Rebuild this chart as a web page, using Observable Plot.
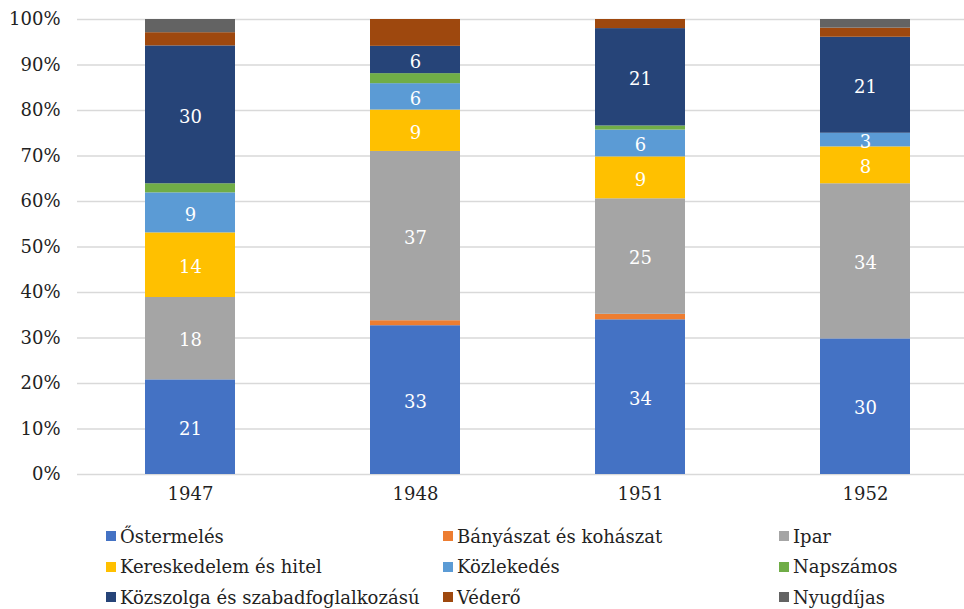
<!DOCTYPE html>
<html>
<head>
<meta charset="utf-8">
<script src="https://cdn.jsdelivr.net/npm/d3@7"></script>
<script src="https://cdn.jsdelivr.net/npm/@observablehq/plot@0.6"></script>
<style>
  body { margin: 0; background: #fff; font-family: "DejaVu Serif", serif; }
  #chart svg { display: block; }
  .legend { display: grid; grid-template-columns: 337px 336px auto; grid-auto-rows: 30.5px;
            padding-left: 106px; margin-top: 11px; font-size: 18px; color: #222; font-family: "DejaVu Serif", serif; }
  .legend div { display: flex; align-items: center; white-space: nowrap; min-width: 0; overflow: visible; }
  .legend span.sw { flex: 0 0 auto; width: 10px; height: 10px; display: inline-block; margin-right: 4px; }
</style>
</head>
<body>
<div id="chart"></div>
<div class="legend" id="legend"></div>
<script>
const years = ["1947", "1948", "1951", "1952"];
const seriesNames = ["Őstermelés", "Bányászat és kohászat", "Ipar", "Kereskedelem és hitel", "Közlekedés", "Napszámos", "Közszolga és szabadfoglalkozású", "Véderő", "Nyugdíjas"];
const colors = ["#4472C4", "#ED7D31", "#A5A5A5", "#FFC000", "#5B9BD5", "#70AD47", "#264478", "#9E480E", "#636363"];
const ostermeles   = [20.8, 32.7, 34.0, 29.8];
const banyaszat    = [0,    1.1,  1.2,  0];
const ipar         = [18.1, 37.2, 25.4, 34.1];
const kereskedelem = [14.2, 9.1,  9.2,  8.1];
const kozlekedes   = [8.8,  5.8,  5.9,  3.0];
const napszamos    = [2.0,  2.2,  0.9,  0];
const kozszolga    = [30.3, 6.0,  21.4, 21.1];
const vedero       = [2.9,  5.9,  2.0,  2.0];
const nyugdijas    = [2.9,  0,    0,    1.9];
const labeledSeries = ["Őstermelés", "Ipar", "Kereskedelem és hitel", "Közlekedés", "Közszolga és szabadfoglalkozású"];
const yTicks = [0, 10, 20, 30, 40, 50, 60, 70, 80, 90, 100];

const seriesValues = [ostermeles, banyaszat, ipar, kereskedelem, kozlekedes, napszamos, kozszolga, vedero, nyugdijas];
const data = [];
years.forEach((yr, i) => {
  seriesNames.forEach((s, j) => {
    data.push({year: yr, series: s, value: seriesValues[j][i]});
  });
});

const chart = Plot.plot({
  width: 964,
  height: 510,
  marginTop: 19,
  marginBottom: 36,
  marginLeft: 77,
  marginRight: 0,
  style: {fontFamily: "'DejaVu Serif', serif", fontSize: "18px", color: "#222"},
  x: {domain: years, range: [77, 977], paddingInner: 0.6, paddingOuter: 0.3, label: null},
  y: {domain: [0, 100], label: null},
  color: {domain: seriesNames, range: colors},
  marks: [
    Plot.ruleY(yTicks, {stroke: "#d9d9d9", strokeWidth: 1.5}),
    Plot.barY(data, {x: "year", y: "value", fill: "series"}),
    Plot.text(data, Plot.stackY({x: "year", y: "value", z: "series",
      text: d => (labeledSeries.includes(d.series) && d.value > 0) ? String(Math.round(d.value)) : null,
      fill: "white", fontSize: 18, dy: 2})),
    Plot.axisY({ticks: yTicks, tickSize: 0, tickPadding: 17, tickFormat: d => d + "%", fontSize: 18}),
    Plot.axisX({tickSize: 0, tickPadding: 13, fontSize: 18})
  ]
});
document.getElementById("chart").appendChild(chart);

const legend = document.getElementById("legend");
seriesNames.forEach((s, j) => {
  const div = document.createElement("div");
  const sw = document.createElement("span");
  sw.className = "sw";
  sw.style.background = colors[j];
  div.appendChild(sw);
  div.appendChild(document.createTextNode(s));
  legend.appendChild(div);
});
</script>
</body>
</html>
